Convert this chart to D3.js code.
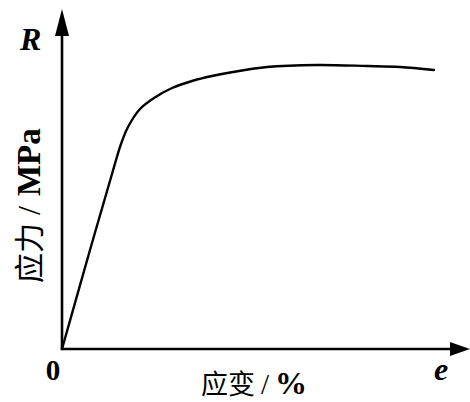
<!DOCTYPE html>
<html>
<head>
  <meta charset="utf-8">
  <title>应力-应变曲线</title>
  <script src="https://d3js.org/d3.v7.min.js"></script>
  <style>
    body { margin: 0; background: #fff; }
    svg { display: block; }
    .cjk { font-family: "Noto Sans CJK SC", sans-serif; }
    .latin { font-family: "Liberation Serif", "DejaVu Serif", serif; }
  </style>
</head>
<body>
<script>
  // strain (%) and stress (MPa)
  var strain = [0, 1.4, 2.5, 2.95, 3.3, 3.9, 4.6, 5.5, 6.5, 7.5, 8.55, 10.25, 12.75, 15.25, 16.9, 18.6];
  var stress = [0, 99, 175, 205, 222, 240, 251, 261, 268, 273, 277, 282, 284, 283, 282, 279];

  var width = 470, height = 402;

  var svg = d3.select("body").append("svg")
      .attr("width", width)
      .attr("height", height);

  // scales: origin at (62, 349)
  var x = d3.scaleLinear().domain([0, 20]).range([62, 462]);
  var y = d3.scaleLinear().domain([0, 300]).range([349, 49]);

  var x0 = x(0), y0 = y(0);
  var xEnd = 470, yEnd = 9;

  // axes
  svg.append("line")
      .attr("x1", x0).attr("y1", y0)
      .attr("x2", x0).attr("y2", yEnd + 20)
      .attr("stroke", "#000").attr("stroke-width", 2.6);
  svg.append("line")
      .attr("x1", x0 - 1.3).attr("y1", y0)
      .attr("x2", xEnd - 15).attr("y2", y0)
      .attr("stroke", "#000").attr("stroke-width", 2.6);

  // arrow heads
  svg.append("path")
      .attr("d", "M" + x0 + "," + yEnd + "L" + (x0 - 7) + "," + (yEnd + 27) + "L" + (x0 + 7) + "," + (yEnd + 27) + "Z")
      .attr("fill", "#000");
  svg.append("path")
      .attr("d", "M" + xEnd + "," + y0 + "L" + (xEnd - 20) + "," + (y0 - 7) + "L" + (xEnd - 20) + "," + (y0 + 7) + "Z")
      .attr("fill", "#000");

  // stress-strain curve
  var line = d3.line()
      .x(function (d, i) { return x(strain[i]); })
      .y(function (d) { return y(d); })
      .curve(d3.curveCatmullRom.alpha(0.5));

  svg.append("path")
      .datum(stress)
      .attr("d", line)
      .attr("fill", "none")
      .attr("stroke", "#000")
      .attr("stroke-width", 2.4)
      .attr("stroke-linecap", "round");

  // axis letters
  svg.append("text")
      .attr("class", "latin")
      .attr("x", 20).attr("y", 50)
      .style("font-size", "32px")
      .style("font-weight", "bold")
      .style("font-style", "italic")
      .text("R");

  svg.append("text")
      .attr("class", "latin")
      .attr("x", 434).attr("y", 380)
      .style("font-size", "32px")
      .style("font-weight", "bold")
      .style("font-style", "italic")
      .text("e");

  svg.append("text")
      .attr("class", "latin")
      .attr("x", 53).attr("y", 380)
      .attr("text-anchor", "middle")
      .style("font-size", "29px")
      .style("font-weight", "bold")
      .text("0");

  // x axis title: 应变/%
  var xt = svg.append("text").attr("x", 201).attr("y", 394);
  xt.append("tspan").attr("class", "cjk").style("font-size", "27px").text("应变");
  xt.append("tspan").attr("class", "latin").attr("dx", 6).style("font-size", "29px").text("/");
  xt.append("tspan").attr("class", "latin").attr("dx", 6).style("font-size", "32px").style("font-weight", "bold").text("%");

  // y axis title: 应力/MPa
  var yt = svg.append("text")
      .attr("transform", "translate(40,283) rotate(-90)");
  yt.append("tspan").attr("class", "cjk").style("font-size", "30px").text("应力");
  yt.append("tspan").attr("class", "latin").attr("dx", 8).style("font-size", "32px").text("/");
  yt.append("tspan").attr("class", "latin").attr("dx", 10).style("font-size", "33px").style("font-weight", "bold").text("MPa");
</script>
</body>
</html>
